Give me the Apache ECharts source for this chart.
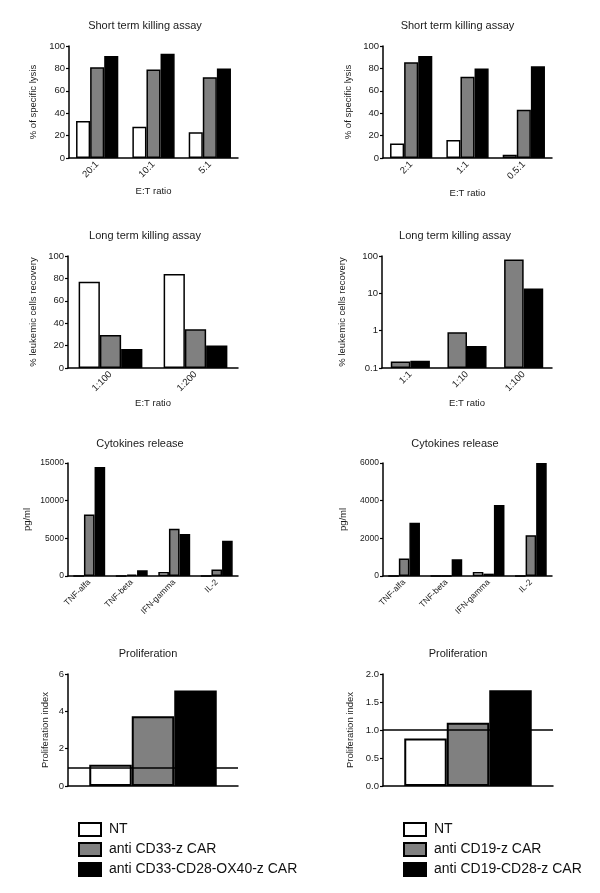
<!DOCTYPE html>
<html><head><meta charset="utf-8">
<script src="https://cdn.jsdelivr.net/npm/echarts@6/dist/echarts.min.js"></script>
<style>html,body{margin:0;padding:0;background:#fff}#c{width:600px;height:893px}</style>
</head><body><div id="c"></div>
<script>
// ---------- data ----------
const namesL = ['NT', 'anti CD33-z CAR', 'anti CD33-CD28-OX40-z CAR'];
const namesR = ['NT', 'anti CD19-z CAR', 'anti CD19-CD28-z CAR'];

const stCatsL = ['20:1', '10:1', '5:1'];
const stNTL = [33, 28, 23];
const stZL = [81, 79, 72];
const stOXL = [91, 93, 80];

const stCatsR = ['2:1', '1:1', '0.5:1'];
const stNTR = [13, 16, 3];
const stZR = [85.5, 72.5, 43];
const stCD28R = [91, 80, 82];

const ltCatsL = ['1:100', '1:200'];
const ltNTL = [77, 84];
const ltZL = [29.5, 34.5];
const ltOXL = [17, 20];

const ltCatsR = ['1:1', '1:10', '1:100'];
const ltZR = [0.15, 0.9, 80];
const ltCD28R = [0.157, 0.39, 13.5];

const cyCats = ['TNF-alfa', 'TNF-beta', 'IFN-gamma', 'IL-2'];
const cyNTL = [0, 0, 530, 0];
const cyZL = [8150, 180, 6280, 850];
const cyOXL = [14470, 760, 5560, 4670];
const cyNTR = [0, 0, 210, 0];
const cyZR = [930, 0, 125, 2170];
const cyCD28R = [2830, 890, 3770, 6000];

const prCats = [''];
const prNTL = [1.14];
const prZL = [3.73];
const prOXL = [5.12];
const prNTR = [0.85];
const prZR = [1.13];
const prCD28R = [1.71];
const prRef = 1;

const titles = ['Short term killing assay', 'Short term killing assay',
  'Long term killing assay', 'Long term killing assay',
  'Cytokines release', 'Cytokines release', 'Proliferation', 'Proliferation'];

// ---------- style / layout ----------
const FONT = '"Liberation Sans", Arial, sans-serif';
const WHITE = '#ffffff', GRAY = '#808080', BLACK = '#000000';
const TXT = '#1a1a1a';

const grids = [
  {left: 69, top: 46, width: 169, height: 112},
  {left: 383, top: 46, width: 169, height: 112},
  {left: 68, top: 256, width: 170, height: 112},
  {left: 382, top: 256, width: 170, height: 112},
  {left: 68, top: 463, width: 170, height: 113},
  {left: 383, top: 463, width: 169, height: 113},
  {left: 68, top: 674, width: 170, height: 112},
  {left: 383, top: 674, width: 170, height: 112}
];
const titlePos = [[145, 27], [457.5, 27], [145, 237], [455, 237], [140, 445], [455, 445], [148, 655], [458, 655]];

const ctx = document.createElement('canvas').getContext('2d');
function textW(t, size) { ctx.font = size + 'px ' + FONT; return ctx.measureText(t).width; }

const axisLine = {show: true, lineStyle: {color: '#000', width: 1.5}};

function xAx(i, cats, opt) {
  const o = Object.assign({fs: 9.5, name: 'E:T ratio', gap: 28, labels: true}, opt || {});
  return {
    type: 'category', gridIndex: i, data: cats,
    axisLine: axisLine,
    axisTick: {show: false},
    axisLabel: {show: o.labels, rotate: 45, fontSize: o.fs, color: TXT, fontFamily: FONT, margin: 5, interval: 0},
    name: o.name, nameLocation: 'middle', nameGap: o.gap,
    nameTextStyle: {fontSize: 9.5, color: TXT, fontFamily: FONT}
  };
}
function yAx(i, opt) {
  const o = Object.assign({fs: 9.5, fmt: v => String(v)}, opt);
  const a = {
    type: o.type || 'value', gridIndex: i, min: o.min, max: o.max,
    axisLine: axisLine,
    axisTick: {show: true, length: 3, lineStyle: {color: '#000', width: 1.2}},
    axisLabel: {fontSize: o.fs, color: TXT, fontFamily: FONT, margin: 4, formatter: o.fmt},
    splitLine: {show: false},
    name: o.name, nameLocation: 'middle', nameGap: o.gap,
    nameTextStyle: {fontSize: 9.5, color: TXT, fontFamily: FONT}
  };
  if (o.interval !== undefined) a.interval = o.interval;
  if (o.type === 'log') { a.logBase = 10; a.startValue = o.min; }
  return a;
}
function bar(name, data, color, i, gapPct, bw) {
  return {
    type: 'bar', name: name, data: data, xAxisIndex: i, yAxisIndex: i,
    barGap: '0%', barCategoryGap: gapPct || '25%',
    itemStyle: {color: color, borderColor: '#000', borderWidth: bw || 1.5},
    emphasis: {disabled: true}, animation: false
  };
}

const xAxis = [
  xAx(0, stCatsL, {gap: 28}),
  xAx(1, stCatsR, {gap: 30}),
  xAx(2, ltCatsL, {gap: 30}),
  xAx(3, ltCatsR, {gap: 30}),
  xAx(4, cyCats, {fs: 8.5, name: ''}),
  xAx(5, cyCats, {fs: 8.5, name: ''}),
  xAx(6, prCats, {name: '', labels: false}),
  xAx(7, prCats, {name: '', labels: false})
];
const yAxis = [
  yAx(0, {min: 0, max: 100, interval: 20, name: '% of specific lysis', gap: 31}),
  yAx(1, {min: 0, max: 100, interval: 20, name: '% of specific lysis', gap: 30}),
  yAx(2, {min: 0, max: 100, interval: 20, name: '% leukemic cells recovery', gap: 30}),
  yAx(3, {type: 'log', min: 0.1, max: 100, name: '% leukemic cells recovery', gap: 35}),
  yAx(4, {min: 0, max: 15000, interval: 5000, name: 'pg/ml', gap: 36, fs: 8.5}),
  yAx(5, {min: 0, max: 6000, interval: 2000, name: 'pg/ml', gap: 35, fs: 8.5}),
  yAx(6, {min: 0, max: 6, interval: 2, name: 'Proliferation index', gap: 18}),
  yAx(7, {min: 0, max: 2, interval: 0.5, name: 'Proliferation index', gap: 28, fmt: v => v.toFixed(1)})
];

const refLine = {
  silent: true, symbol: 'none', label: {show: false},
  lineStyle: {color: '#000', type: 'solid', width: 1.5},
  data: [{yAxis: prRef}], animation: false
};

const series = [
  bar(namesL[0], stNTL, WHITE, 0), bar(namesL[1], stZL, GRAY, 0), bar(namesL[2], stOXL, BLACK, 0),
  bar(namesR[0], stNTR, WHITE, 1), bar(namesR[1], stZR, GRAY, 1), bar(namesR[2], stCD28R, BLACK, 1),
  bar(namesL[0], ltNTL, WHITE, 2), bar(namesL[1], ltZL, GRAY, 2), bar(namesL[2], ltOXL, BLACK, 2),
  bar(namesR[1], ltZR, GRAY, 3, '31%'), bar(namesR[2], ltCD28R, BLACK, 3, '31%'),
  bar(namesL[0], cyNTL, WHITE, 4), bar(namesL[1], cyZL, GRAY, 4), bar(namesL[2], cyOXL, BLACK, 4),
  bar(namesR[0], cyNTR, WHITE, 5), bar(namesR[1], cyZR, GRAY, 5), bar(namesR[2], cyCD28R, BLACK, 5),
  bar(namesL[0], prNTL, WHITE, 6, '25%', 2), bar(namesL[1], prZL, GRAY, 6, '25%', 2), bar(namesL[2], prOXL, BLACK, 6, '25%', 2),
  bar(namesR[0], prNTR, WHITE, 7, '25%', 2), bar(namesR[1], prZR, GRAY, 7, '25%', 2), bar(namesR[2], prCD28R, BLACK, 7, '25%', 2)
];
series[19].markLine = refLine;
series[22].markLine = refLine;

const title = titles.map((t, k) => ({
  text: t, padding: 0,
  left: titlePos[k][0] - textW(t, 11) / 2, top: titlePos[k][1] - 6.5,
  textStyle: {fontSize: 11, fontWeight: 'normal', color: TXT, fontFamily: FONT}
}));

const legendCommon = {
  orient: 'vertical', padding: 0, itemGap: 5, itemWidth: 22, itemHeight: 13,
  icon: 'rect', selectedMode: false,
  textStyle: {fontSize: 14, color: '#111', fontFamily: FONT, padding: [0, 0, 0, 3]}
};
const legend = [
  Object.assign({}, legendCommon, {data: namesL, left: 78, top: 822}),
  Object.assign({}, legendCommon, {data: namesR, left: 403, top: 822})
];

const chart = echarts.init(document.getElementById('c'), null, {renderer: 'canvas'});
chart.setOption({
  backgroundColor: '#fff', animation: false,
  title: title, legend: legend, grid: grids, xAxis: xAxis, yAxis: yAxis, series: series
});
</script>
</body></html>
